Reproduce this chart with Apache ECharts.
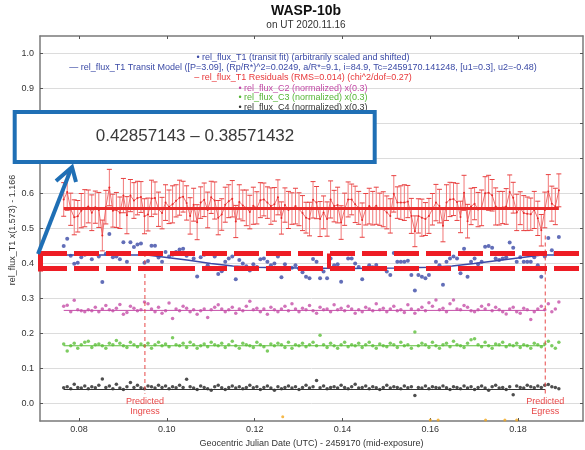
<!DOCTYPE html>
<html><head><meta charset="utf-8">
<script src="https://cdn.jsdelivr.net/npm/echarts@6/dist/echarts.min.js"></script>
<style>html,body{margin:0;padding:0;background:#fff}#main{width:585px;height:450px}</style>
</head><body><div id="main"></div>
<script>
var time = [
0.0765,0.0773,0.0781,0.0789,0.0797,0.0805,0.0813,0.0821,0.0829,0.0837,
0.0845,0.0853,0.0861,0.0869,0.0877,0.0885,0.0893,0.0901,0.0909,0.0917,
0.0925,0.0933,0.0941,0.0949,0.0957,0.0965,0.0973,0.0981,0.0989,0.0997,
0.1005,0.1013,0.1021,0.1029,0.1037,0.1045,0.1053,0.1061,0.1069,0.1077,
0.1085,0.1093,0.1101,0.1109,0.1117,0.1125,0.1133,0.1141,0.1149,0.1157,
0.1165,0.1173,0.1181,0.1189,0.1197,0.1205,0.1213,0.1221,0.1229,0.1237,
0.1245,0.1253,0.1261,0.1269,0.1277,0.1285,0.1293,0.1301,0.1309,0.1317,
0.1325,0.1333,0.1341,0.1349,0.1357,0.1365,0.1373,0.1381,0.1389,0.1397,
0.1405,0.1413,0.1421,0.1429,0.1437,0.1445,0.1453,0.1461,0.1469,0.1477,
0.1485,0.1493,0.1501,0.1509,0.1517,0.1525,0.1533,0.1541,0.1549,0.1557,
0.1565,0.1573,0.1581,0.1589,0.1597,0.1605,0.1613,0.1621,0.1629,0.1637,
0.1645,0.1653,0.1661,0.1669,0.1677,0.1685,0.1693,0.1701,0.1709,0.1717,
0.1725,0.1733,0.1741,0.1749,0.1757,0.1765,0.1773,0.1781,0.1789,0.1797,
0.1805,0.1813,0.1821,0.1829,0.1837,0.1845,0.1853,0.1861,0.1869,0.1877,
0.1885,0.1893];

var t1Flux = [
0.450,0.471,0.422,0.399,0.402,0.418,0.425,0.430,0.412,0.428,
0.420,0.347,0.428,0.484,0.418,0.420,0.412,0.461,0.405,0.461,
0.447,0.454,0.457,0.402,0.407,0.451,0.451,0.417,0.405,0.433,
0.420,0.425,0.433,0.440,0.442,0.422,0.384,0.414,0.363,0.418,
0.425,0.395,0.430,0.420,0.370,0.378,0.405,0.414,0.420,0.355,
0.410,0.400,0.392,0.380,0.398,0.390,0.412,0.414,0.405,0.395,
0.400,0.420,0.361,0.398,0.384,0.388,0.395,0.386,0.375,0.362,
0.358,0.413,0.405,0.358,0.377,0.358,0.414,0.395,0.398,0.348,
0.386,0.414,0.414,0.400,0.390,0.355,0.386,0.395,0.389,0.396,
0.386,0.386,0.377,0.367,0.430,0.405,0.405,0.405,0.408,0.367,
0.323,0.367,0.362,0.358,0.367,0.386,0.405,0.395,0.339,0.405,
0.414,0.420,0.414,0.372,0.442,0.362,0.405,0.414,0.398,0.405,
0.448,0.450,0.445,0.414,0.410,0.414,0.418,0.460,0.445,0.405,
0.418,0.405,0.405,0.405,0.418,0.395,0.362,0.420,0.473,0.438,
0.430,0.476];

var t1Resid = [
0.583,0.604,0.555,0.532,0.535,0.551,0.558,0.563,0.545,0.561,
0.553,0.480,0.561,0.617,0.551,0.553,0.545,0.594,0.538,0.594,
0.580,0.587,0.590,0.535,0.540,0.586,0.587,0.555,0.544,0.574,
0.562,0.569,0.579,0.588,0.591,0.573,0.536,0.568,0.518,0.574,
0.582,0.553,0.589,0.580,0.531,0.540,0.568,0.578,0.585,0.520,
0.576,0.566,0.559,0.547,0.565,0.559,0.581,0.583,0.574,0.564,
0.569,0.589,0.530,0.567,0.553,0.557,0.564,0.555,0.544,0.531,
0.527,0.582,0.574,0.527,0.546,0.527,0.583,0.564,0.567,0.517,
0.555,0.583,0.583,0.569,0.559,0.524,0.555,0.564,0.558,0.565,
0.555,0.555,0.546,0.536,0.599,0.574,0.574,0.574,0.577,0.536,
0.492,0.536,0.531,0.527,0.536,0.555,0.574,0.564,0.508,0.574,
0.583,0.584,0.576,0.533,0.602,0.521,0.563,0.571,0.554,0.559,
0.601,0.602,0.595,0.563,0.558,0.560,0.563,0.604,0.588,0.546,
0.558,0.544,0.542,0.541,0.553,0.529,0.495,0.553,0.606,0.571,
0.563,0.609];

var t1Err = [
0.048,0.052,0.046,0.050,0.045,0.049,0.053,0.047,0.051,0.046,
0.050,0.044,0.048,0.052,0.047,0.050,0.045,0.049,0.053,0.046,
0.051,0.048,0.044,0.050,0.047,0.052,0.046,0.049,0.045,0.051,
0.048,0.053,0.046,0.050,0.044,0.049,0.052,0.047,0.050,0.045,
0.048,0.051,0.046,0.053,0.049,0.045,0.050,0.047,0.052,0.046,
0.049,0.044,0.051,0.048,0.053,0.046,0.050,0.047,0.045,0.052,
0.048,0.050,0.046,0.049,0.053,0.045,0.051,0.047,0.050,0.044,
0.048,0.052,0.046,0.050,0.047,0.049,0.053,0.045,0.051,0.048,
0.046,0.050,0.044,0.052,0.047,0.049,0.045,0.051,0.048,0.053,
0.046,0.050,0.047,0.049,0.052,0.045,0.048,0.051,0.046,0.050,
0.044,0.049,0.053,0.047,0.050,0.045,0.052,0.048,0.046,0.051,
0.049,0.047,0.053,0.045,0.050,0.048,0.052,0.046,0.049,0.051,
0.047,0.050,0.045,0.053,0.048,0.046,0.051,0.049,0.044,0.052,
0.047,0.050,0.048,0.046,0.053,0.049,0.045,0.051,0.048,0.050,
0.052,0.047];

var c2Flux = [
0.278,0.281,0.262,0.295,0.268,0.265,0.262,0.268,0.265,0.275,
0.262,0.270,0.280,0.268,0.265,0.272,0.283,0.255,0.260,0.278,
0.272,0.265,0.268,0.290,0.285,0.270,0.262,0.275,0.258,0.265,
0.287,0.243,0.270,0.265,0.278,0.272,0.262,0.268,0.255,0.265,
0.270,0.246,0.268,0.275,0.282,0.270,0.262,0.268,0.275,0.258,
0.270,0.265,0.278,0.292,0.268,0.272,0.262,0.270,0.255,0.275,
0.268,0.262,0.270,0.278,0.265,0.285,0.270,0.262,0.272,0.268,
0.280,0.265,0.258,0.275,0.268,0.270,0.262,0.282,0.268,0.272,
0.265,0.278,0.270,0.258,0.268,0.262,0.275,0.270,0.265,0.285,
0.268,0.272,0.262,0.270,0.278,0.265,0.268,0.260,0.282,0.270,
0.258,0.268,0.275,0.265,0.288,0.278,0.296,0.268,0.272,0.262,
0.285,0.296,0.270,0.268,0.280,0.275,0.265,0.262,0.268,0.278,
0.270,0.282,0.265,0.275,0.268,0.262,0.256,0.270,0.275,0.262,
0.258,0.272,0.268,0.240,0.262,0.270,0.278,0.268,0.285,0.262,
0.270,0.290];

var c3Flux = [
0.170,0.150,0.165,0.172,0.158,0.168,0.175,0.178,0.160,0.168,
0.170,0.165,0.158,0.172,0.168,0.180,0.172,0.165,0.160,0.175,
0.168,0.162,0.170,0.165,0.172,0.158,0.168,0.175,0.165,0.170,
0.162,0.188,0.168,0.165,0.172,0.160,0.175,0.168,0.158,0.165,
0.170,0.162,0.175,0.168,0.165,0.172,0.160,0.168,0.178,0.165,
0.158,0.172,0.168,0.165,0.160,0.175,0.168,0.162,0.150,0.170,
0.165,0.172,0.168,0.160,0.175,0.158,0.168,0.165,0.172,0.162,
0.168,0.175,0.165,0.195,0.168,0.160,0.172,0.165,0.158,0.168,
0.175,0.162,0.168,0.165,0.172,0.160,0.168,0.175,0.165,0.158,
0.170,0.165,0.162,0.172,0.168,0.160,0.175,0.165,0.168,0.158,
0.204,0.165,0.172,0.168,0.160,0.175,0.165,0.158,0.168,0.172,
0.162,0.178,0.168,0.165,0.160,0.172,0.182,0.185,0.168,0.162,
0.175,0.165,0.158,0.170,0.168,0.175,0.162,0.168,0.165,0.172,
0.160,0.168,0.165,0.158,0.172,0.168,0.162,0.170,0.178,0.165,
0.158,0.175];

var c4Flux = [
0.045,0.048,0.042,0.055,0.046,0.044,0.050,0.042,0.048,0.045,
0.052,0.070,0.046,0.050,0.042,0.055,0.044,0.040,0.048,0.060,
0.046,0.052,0.045,0.042,0.050,0.048,0.044,0.052,0.046,0.050,
0.042,0.048,0.045,0.052,0.046,0.069,0.048,0.044,0.040,0.050,
0.046,0.042,0.038,0.048,0.052,0.045,0.040,0.046,0.050,0.044,
0.048,0.042,0.046,0.052,0.045,0.048,0.040,0.046,0.050,0.044,
0.038,0.048,0.042,0.046,0.050,0.044,0.048,0.040,0.046,0.052,
0.044,0.048,0.066,0.045,0.050,0.042,0.046,0.048,0.044,0.052,
0.046,0.042,0.048,0.055,0.044,0.046,0.050,0.042,0.048,0.045,
0.040,0.046,0.052,0.044,0.048,0.046,0.042,0.050,0.045,0.048,
0.023,0.046,0.044,0.050,0.042,0.048,0.046,0.044,0.050,0.045,
0.040,0.048,0.046,0.042,0.050,0.044,0.048,0.040,0.046,0.050,
0.044,0.038,0.048,0.052,0.044,0.046,0.040,0.048,0.025,0.050,
0.046,0.044,0.052,0.048,0.045,0.050,0.046,0.052,0.054,0.048,
0.046,0.042];

var modelTime = [0.0765,0.0955,0.100,0.105,0.110,0.115,0.120,0.130,0.141,0.152,0.160,0.165,0.170,0.175,0.180,0.1855,0.1893];
var modelFlux = [0.424,0.424,0.417,0.409,0.400,0.393,0.389,0.387,0.386,0.387,0.389,0.393,0.400,0.408,0.416,0.424,0.424];

var levelTime = [0.0765, 0.1862];
var residLevelTime = [0.0765, 0.1893];
var residLevel = 0.557;
var c2Level = 0.266;
var c3Level = 0.165;
var c4Level = 0.040;

var clippedTime = [0.1264,0.1600,0.1618,0.1726,0.1770,0.1797];
var clippedFlux = [-0.038,-0.047,-0.047,-0.047,-0.047,-0.047];

var ingressTime = 0.095;
var egressTime = 0.1862;
var ingressSpan = [0.43, 0.028];
var egressSpan = [0.48, 0.028];

var xTicks = [0.08,0.10,0.12,0.14,0.16,0.18];
var yTicks = [0.0,0.1,0.2,0.3,0.4,0.5,0.6,0.7,0.8,0.9,1.0];

var boxTop = 0.42857143;
var boxBottom = 0.38571432;
var boxLabel = '0.42857143 \u2013 0.38571432';

var titleText = 'WASP-10b';
var subTitleText = 'on UT 2020.11.16';
var yAxisTitle = 'rel_flux_T1 x(1.573) - 1.166';
var legendLines = [
  {text:'\u2022 rel_flux_T1 (transit fit) (arbitrarily scaled and shifted)', color:'#3b4aa6'},
  {text:'\u2014 rel_flux_T1 Transit Model ([P=3.09], (Rp/R*)^2=0.0249, a/R*=9.1, i=84.9, Tc=2459170.141248, [u1=0.3], u2=-0.48)', color:'#3b4aa6'},
  {text:'\u2013 rel_flux_T1 Residuals (RMS=0.014) (chi^2/dof=0.27)', color:'#e8383a'},
  {text:'\u2022 rel_flux_C2 (normalized) x(0.3)', color:'#c24aa6'},
  {text:'\u2022 rel_flux_C3 (normalized) x(0.3)', color:'#55b535'},
  {text:'\u2022 rel_flux_C4 (normalized) x(0.3)', color:'#333333'}
];

var FONT = '"Liberation Sans", Arial, sans-serif';
function pairs(xs, ys){ return xs.map(function(x,i){ return [x, ys[i]]; }); }
function hline(xs, v){ return [[xs[0], v],[xs[1], v]]; }

var chart = echarts.init(document.getElementById('main'));
var axisGray = '#7a7a7a';
var option = {
  animation: false,
  textStyle: {fontFamily: FONT},
  grid: {left: 40, right: 2, top: 36, bottom: 29, containLabel:false, outerBoundsMode:'none'},
  xAxis: [{
    type:'value', min:0.0711, max:0.1948, position:'bottom',
    name:'Geocentric Julian Date (UTC) - 2459170 (mid-exposure)', nameLocation:'middle', nameGap:15,
    nameTextStyle:{fontSize:9, color:'#333', fontFamily:FONT},
    axisLine:{show:true, onZero:false, lineStyle:{color:axisGray, width:1.5}},
    axisTick:{show:true, inside:true, length:3, customValues:xTicks, lineStyle:{color:'#555'}},
    axisLabel:{customValues:xTicks, formatter:function(v){return v.toFixed(2);}, color:'#333', fontSize:9, margin:4, fontFamily:FONT},
    splitLine:{show:false}
  },{
    type:'value', min:0.0711, max:0.1948, position:'top',
    axisLine:{show:true, onZero:false, lineStyle:{color:axisGray, width:1.5}},
    axisTick:{show:true, inside:true, length:3, customValues:xTicks, lineStyle:{color:'#555'}},
    axisLabel:{show:false}, splitLine:{show:false}
  }],
  yAxis: [{
    type:'value', min:-0.05, max:1.05, position:'left',
    axisLine:{show:true, onZero:false, lineStyle:{color:axisGray, width:1.5}},
    axisTick:{show:true, inside:true, length:3, customValues:yTicks, lineStyle:{color:'#555'}},
    axisLabel:{customValues:yTicks, formatter:function(v){return v.toFixed(1);}, color:'#333', fontSize:9, margin:6, fontFamily:FONT},
    splitLine:{show:true, lineStyle:{color:'#dcdcdc', width:1}}
  },{
    type:'value', min:-0.05, max:1.05, position:'right',
    axisLine:{show:true, onZero:false, lineStyle:{color:axisGray, width:1.5}},
    axisTick:{show:true, inside:true, length:3, customValues:yTicks, lineStyle:{color:'#555'}},
    axisLabel:{show:false}, splitLine:{show:false}
  }],
  series: [
    {type:'scatter', data:pairs(time,c4Flux), symbolSize:3.5, itemStyle:{color:'#222'}, silent:true},
    {type:'line', data:hline(levelTime,c4Level), symbol:'none', lineStyle:{color:'#333', width:1}, silent:true},
    {type:'scatter', data:pairs(time,c3Flux), symbolSize:3.5, itemStyle:{color:'#5cbf3a'}, silent:true},
    {type:'line', data:hline(levelTime,c3Level), symbol:'none', lineStyle:{color:'#5cbf3a', width:1}, silent:true},
    {type:'scatter', data:pairs(time,c2Flux), symbolSize:3.5, itemStyle:{color:'#c54fa8'}, silent:true},
    {type:'line', data:hline(levelTime,c2Level), symbol:'none', lineStyle:{color:'#c54fa8', width:1}, silent:true},
    {type:'custom', silent:true, encode:{x:0, y:1},
      data: time.map(function(t,i){ return [t, t1Resid[i], t1Err[i]]; }),
      renderItem: function(params, api){
        var x = api.value(0), y = api.value(1), e = api.value(2);
        var a = api.coord([x, y + e]), b = api.coord([x, y - e]);
        var hw = 2.5, st = {stroke:'#f27878', lineWidth:1};
        return {type:'group', children:[
          {type:'line', shape:{x1:a[0], y1:a[1], x2:b[0], y2:b[1]}, style:st},
          {type:'line', shape:{x1:a[0]-hw, y1:a[1], x2:a[0]+hw, y2:a[1]}, style:{stroke:'#e84040', lineWidth:1}},
          {type:'line', shape:{x1:b[0]-hw, y1:b[1], x2:b[0]+hw, y2:b[1]}, style:{stroke:'#e84040', lineWidth:1}}
        ]};
      }
    },
    {type:'line', data:pairs(time,t1Resid), symbol:'circle', symbolSize:2, showSymbol:true, itemStyle:{color:'#e82a2a'}, lineStyle:{color:'#ec4a4a', width:0.8}, silent:true},
    {type:'line', data:hline(residLevelTime,residLevel), symbol:'none', lineStyle:{color:'#e82a2a', width:3}, silent:true},
    {type:'line', data:pairs(modelTime,modelFlux), symbol:'none', lineStyle:{color:'#3b4aa6', width:1.5}, silent:true},
    {type:'scatter', data:pairs(time,t1Flux), symbolSize:4, itemStyle:{color:'#3b4aa6'}, silent:true},
    {type:'line', data:[[ingressTime,ingressSpan[0]],[ingressTime,ingressSpan[1]]], symbol:'none', lineStyle:{color:'#e84848', width:1, type:[4,3]}, silent:true},
    {type:'line', data:[[egressTime,egressSpan[0]],[egressTime,egressSpan[1]]], symbol:'none', lineStyle:{color:'#e84848', width:1, type:[4,3]}, silent:true},
    {type:'scatter', data:pairs(clippedTime,clippedFlux), symbolSize:3, itemStyle:{color:'#f2a81d'}, silent:true}
  ]
};
chart.setOption(option);

var yT = chart.convertToPixel({yAxisIndex:0}, boxTop);
var yB = chart.convertToPixel({yAxisIndex:0}, boxBottom);
var xIn = chart.convertToPixel({xAxisIndex:0}, ingressTime);
var xEg = chart.convertToPixel({xAxisIndex:0}, egressTime);
var yLab = chart.convertToPixel({yAxisIndex:0}, 0.0);

var g = [];
g.push({type:'text', x:306, y:11, z:50, style:{text:titleText, font:'bold 14px ' + FONT, fill:'#111', textAlign:'center', textVerticalAlign:'middle'}});
g.push({type:'text', x:306, y:25, z:50, style:{text:subTitleText, font:'10px ' + FONT, fill:'#333', textAlign:'center', textVerticalAlign:'middle'}});
g.push({type:'text', x:13, y:230, rotation:Math.PI/2, z:50, style:{text:yAxisTitle, font:'9px ' + FONT, fill:'#333', textAlign:'center', textVerticalAlign:'middle'}});
var ly = [57.5, 67.5, 78, 88.5, 98, 107.5];
legendLines.forEach(function(l, i){
  g.push({type:'text', x:303, y:ly[i], z:50, style:{text:l.text, font:'9px ' + FONT, fill:l.color, textAlign:'center', textVerticalAlign:'middle'}});
});
g.push({type:'text', x:xIn, y:yLab - 7, z:50, style:{text:'Predicted\nIngress', font:'9px ' + FONT, fill:'#e84848', textAlign:'center', textVerticalAlign:'top', lineHeight:10}});
g.push({type:'text', x:xEg, y:yLab - 7, z:50, style:{text:'Predicted\nEgress', font:'9px ' + FONT, fill:'#e84848', textAlign:'center', textVerticalAlign:'top', lineHeight:10}});
var red = '#ee1c24';
g.push({type:'line', z:60, shape:{x1:42, y1:yT, x2:585, y2:yT}, style:{stroke:red, lineWidth:5, lineDash:[25,7]}});
g.push({type:'line', z:60, shape:{x1:42, y1:yB, x2:585, y2:yB}, style:{stroke:red, lineWidth:5, lineDash:[25,7]}});
g.push({type:'line', z:60, shape:{x1:40.5, y1:yT - 2.5, x2:40.5, y2:yB + 3}, style:{stroke:red, lineWidth:5}});
g.push({type:'line', z:60, shape:{x1:329, y1:yT, x2:329, y2:yB}, style:{stroke:red, lineWidth:4}});
var blue = '#1f6fb5';
g.push({type:'rect', z:70, shape:{x:14.7, y:112, width:360, height:50}, style:{fill:'#fff', stroke:blue, lineWidth:4}});
g.push({type:'text', z:71, x:195, y:136, style:{text:boxLabel, font:'17px ' + FONT, fill:'#3a3a3a', textAlign:'center', textVerticalAlign:'middle'}});
g.push({type:'line', z:72, shape:{x1:38, y1:254, x2:71, y2:169}, style:{stroke:blue, lineWidth:4}});
g.push({type:'polyline', z:72, shape:{points:[[56,181],[72,167],[76,182]]}, style:{stroke:blue, lineWidth:4, fill:null, lineJoin:'miter'}});
chart.setOption({graphic:{elements:g}});
</script>
</body></html>
